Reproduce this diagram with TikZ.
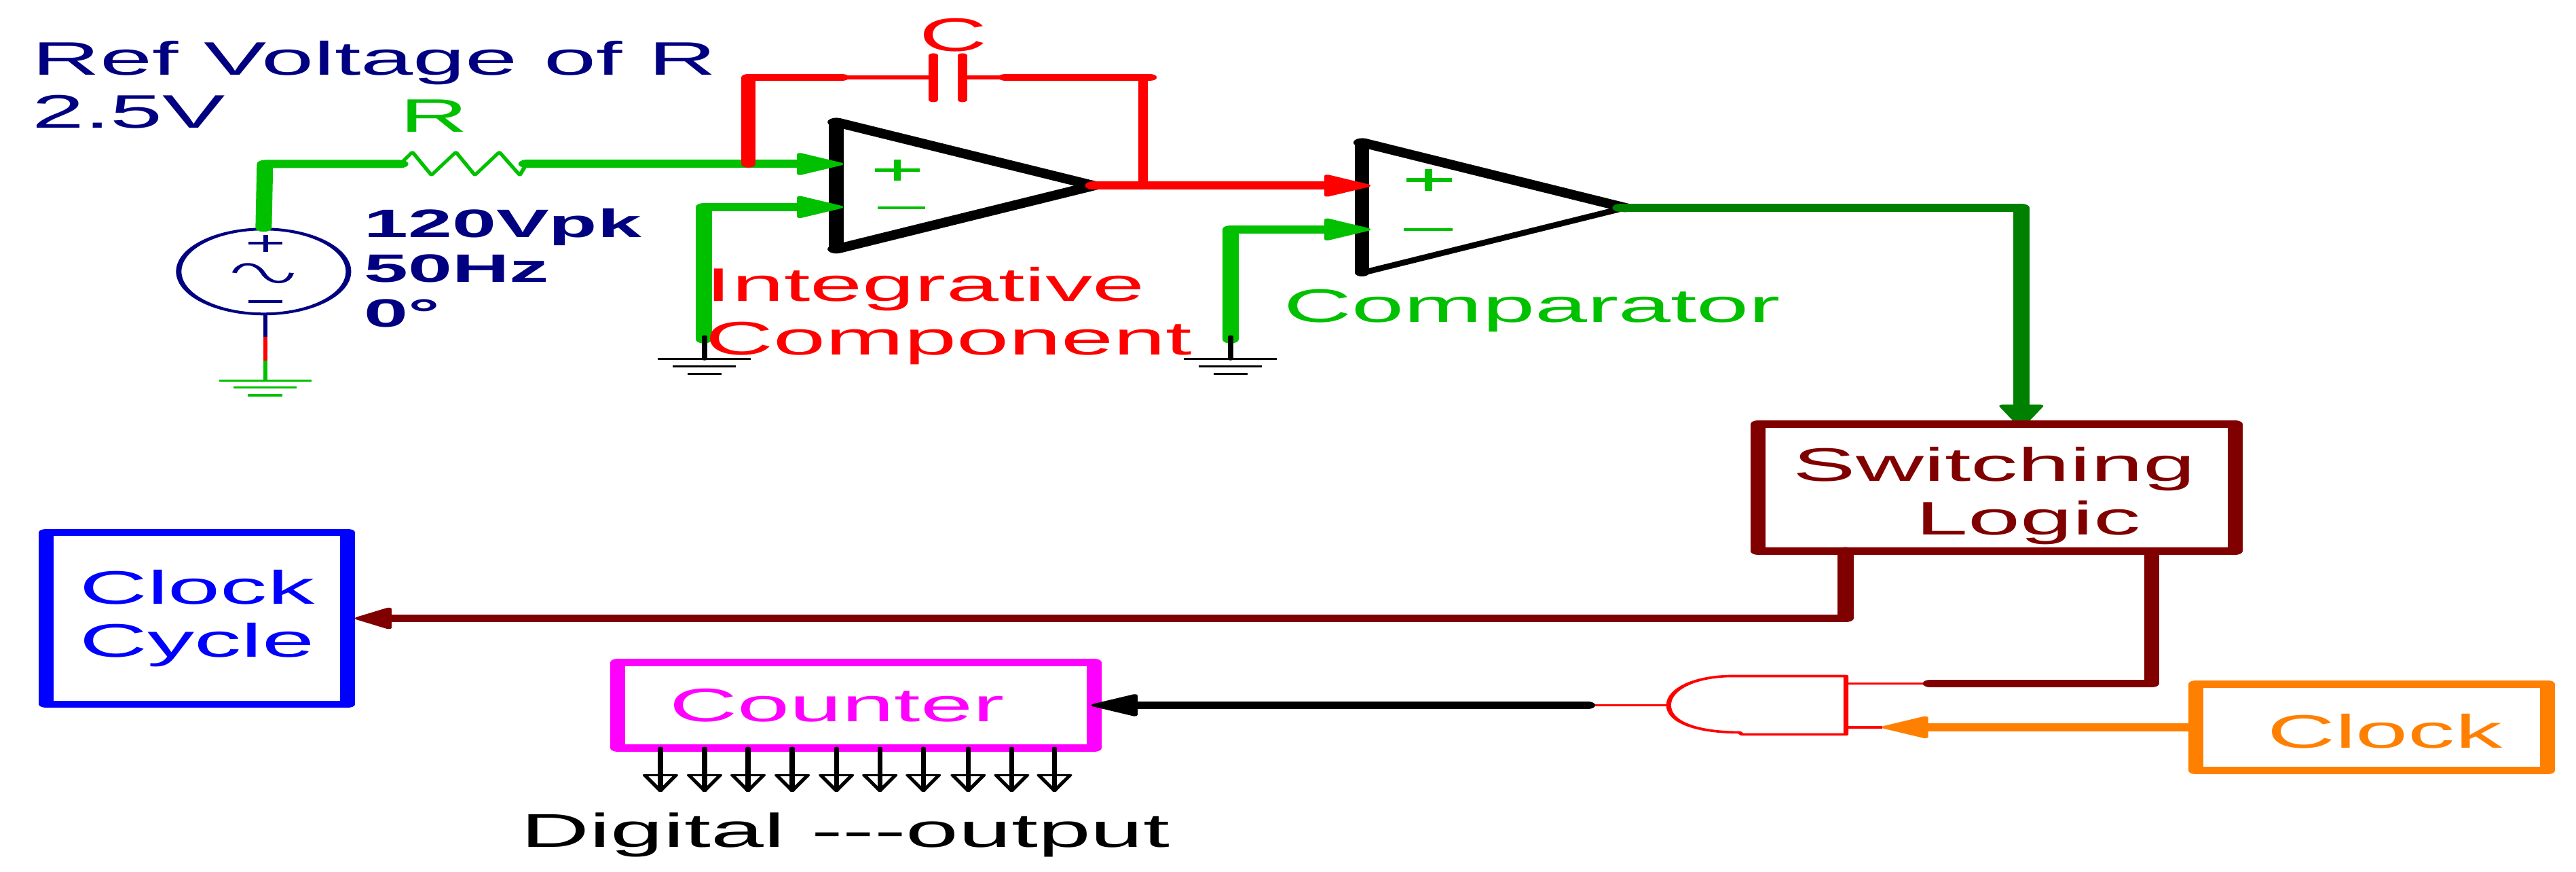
\documentclass[tikz,border=0pt]{standalone}
\usepackage{fontspec}
\setmainfont{Liberation Sans}
\usetikzlibrary{arrows.meta}
\definecolor{wgreen}{HTML}{00C000}
\definecolor{dgreen}{HTML}{008000}
\definecolor{maroonc}{HTML}{800000}
\definecolor{navyc}{HTML}{000080}
\definecolor{orangec}{HTML}{FF8000}
\definecolor{magentac}{HTML}{FF00FF}
\definecolor{bluec}{HTML}{0000FF}
\definecolor{redc}{HTML}{FF0000}
\tikzset{
  wire/.style={line cap=round,line join=round,line width=#1},
  wire/.default=0.12cm,
  headtip/.style={-{Triangle[length=0.37cm,width=0.34cm,round,line width=1.2pt]}},
  headshort/.style={-{Triangle[length=0.29cm,width=0.34cm,round,line width=1.2pt]}},
  lab/.style={anchor=base west,inner sep=0pt,outer sep=0pt,font=\fontsize{19.7}{22.3}\selectfont,align=left},
  sym/.style={line width=0.035cm},
  boxn/.style={draw,rectangle,line width=#1,inner sep=0pt,font=\fontsize{19.7}{22.3}\selectfont,line join=round},
}
\begin{document}
\begin{tikzpicture}[x=0.005cm,y=-0.01cm]
\useasboundingbox (0cm,0cm) rectangle (37.95cm,-12.83cm);
\begin{scope}[transform canvas={xscale=2}]
% named points
\coordinate (corner) at (390,241.6);
\coordinate (resL) at (589,241.6);
\coordinate (resR) at (775,241.6);
\coordinate (ap) at (1241,241.6);
\coordinate (am) at (1241,305);
\coordinate (aout) at (1609,273.5);
\coordinate (g2) at (1037,529);
\coordinate (cp) at (2017,273.5);
\coordinate (cm) at (2017,338);
\coordinate (cout) at (2385,306);
\coordinate (g3) at (1811,529);
\coordinate (swin) at (2975,630);
\coordinate (swa) at (2716,812);
\coordinate (swb) at (3167,812);
\coordinate (gin1) at (2717,1007);
\coordinate (gin2) at (2717,1071.5);
\coordinate (gout) at (2456,1039);
\coordinate (jn1) at (2841,1007);
\coordinate (jn2) at (2770,1071.5);
\coordinate (jn3) at (2337,1039);
\coordinate (fb1) at (1101.5,241.6);
\coordinate (fb2) at (1101.5,114);
\coordinate (cL) at (1374,114);
\coordinate (cR) at (1416.5,114);
\coordinate (fb3) at (1682,114);
\coordinate (fb4) at (1682,273.5);

% source
\node[draw=navyc,circle,line width=0.04cm,minimum size=1.25cm,inner sep=0pt] (src) at (388,400) {};
\draw[sym,navyc] (366,358) -- (416,358) (391,346) -- (391,371) (366,444) -- (416,444);
\draw[sym,navyc] (345,402) .. controls (352,385) and (376,385) .. (387,402) .. controls (398,420) and (424,420) .. (429,402);
\draw[navyc,line width=0.03cm] (391,462) -- (391,496);
\draw[redc,line width=0.03cm] (391,496) -- (391,531);
\draw[wgreen,line width=0.03cm] (391,531) -- (391,561);
\foreach \a/\b/\y in {323/459/561,344/437/571,365/416/582.5}
  \draw[wgreen,sym] (\a,\y) -- (\b,\y);

% green input wires
\draw[wgreen,wire] (src.north) -- (corner) -- (resL);
\draw[wgreen,line width=0.032cm,line join=round] (resL) -- (607,224) -- (635,258) -- (671,224) -- (699,258) -- (735,224) -- (765,258) -- (resR);

% op amps
\draw[black,line width=0.11cm,line cap=round] (1231,180) -- (1231,367);
\draw[black,line width=0.13cm,line cap=round] (1231,180) -- (1610,273.5) -- (1231,367);
\draw[black,line width=0.105cm,line cap=round] (2005,210) -- (2005,402);
\draw[black,line width=0.13cm,line cap=round] (2005,210) -- (2392,306);
\draw[black,line width=0.08cm,line cap=round] (2392,306) -- (2005,402);

\draw[wgreen,wire,headtip] (resR) -- (ap);
\draw[wgreen,wire,headtip] (1036,500) -- (1036,305) -- (am);
\draw[wgreen,wire,headtip] (1811,500) -- (1811,338) -- (cm);

% op amp signs
\draw[wgreen,line width=0.05cm] (1288,250.6) -- (1354,250.6) (1321,235.5) -- (1321,266.5);
\draw[wgreen,line width=0.04cm] (1292,305.7) -- (1362,305.7);
\draw[wgreen,line width=0.055cm] (2070,265) -- (2137,265) (2103,249) -- (2103,281);
\draw[wgreen,line width=0.04cm] (2066,337.7) -- (2138,337.7);

% grounds
\foreach \c in {1037,1811}{
  \draw[black,line width=0.04cm,line cap=round] (\c,496) -- (\c,529);
  \draw[black,sym] (\c-69,529) -- (\c+68,529) (\c-47,540) -- (\c+46,540) (\c-25,550.6) -- (\c+25,550.6);
}

% feedback capacitor
\draw[redc,wire=0.106cm] (fb1) -- (fb2) -- (1239,114);
\draw[redc,line width=0.055cm] (1239,114) -- (cL) (cR) -- (1480,114);
\draw[redc,wire=0.106cm] (1480,114) -- (1692,114);
\draw[redc,wire=0.07cm] (1374,82) -- (1374,147);
\draw[redc,wire=0.07cm] (1416.5,82) -- (1416.5,147);
\draw[redc,wire=0.07cm] (fb3) -- (fb4);
\draw[redc,wire,headtip] (aout) -- (cp);

% comparator output
\draw[dgreen,wire=0.118cm,headtip] (cout) -- (2975,306) -- (swin);

% boxes
\node[boxn=0.108cm,draw=maroonc,text=maroonc,minimum width=3.515cm,minimum height=1.87cm,align=left] (sw) at (2938.5,718.5) {\rule{0pt}{0.74cm}\hspace*{-0.03cm}Switching\\[0pt]\hspace*{0.875cm}Logic};
\node[boxn=0.108cm,draw=bluec,text=bluec,minimum width=2.22cm,minimum height=2.53cm,align=center] (cc) at (290,911) {Clock\\[0pt]Cycle};
\node[boxn=0.108cm,draw=magentac,text=magentac,minimum width=3.51cm,minimum height=1.26cm] (cnt) at (1260,1039) {Counter\hspace*{0.28cm}};
\node[boxn=0.11cm,draw=orangec,text=orangec,minimum width=2.59cm,minimum height=1.275cm] (clk) at (3491,1071.5) {\rule{0pt}{0.62cm}\hspace*{0.19cm}Clock};

% logic wiring
\draw[maroonc,wire=0.12cm,headshort] (swa) |- (cc.east);
\draw[redc,line width=0.036cm] (gin1) -- (jn1);
\draw[redc,line width=0.036cm] (gin2) -- (jn2);
\draw[redc,line width=0.036cm] (gout) -- (jn3);
\draw[maroonc,wire=0.11cm] (swb) |- (jn1);
\draw[redc,line width=0.036cm,line join=round] (2717,996) -- (2551,996) .. controls (2495,996) and (2456,1015) .. (gout) .. controls (2456,1063) and (2495,1079) .. (2560,1079) -- (2564,1082) -- (2717,1082) -- cycle;
\draw[black,wire=0.11cm,headtip,shorten >=-0.075cm] (jn3) -- (cnt.east);
\draw[orangec,line width=0.125cm,headtip] (clk.west) -- (jn2);

% digital outputs
\foreach \n/\x in {0/972,1/1037,2/1101,3/1166,4/1231,5/1295,6/1359,7/1425,8/1489,9/1552}{
  \coordinate (d\n) at (\x,1102);
  \coordinate (e\n) at (\x,1165);
  \draw[black,line width=0.036cm,line cap=round] (d\n) -- (e\n);
  \draw[black,line width=0.032cm,line join=round] (\x-23,1142) -- (\x+23,1142) -- (e\n) -- cycle;
}

% texts
\node[lab,text=navyc] (t1) at (47,189) {Ref Voltage of R\\[0pt]2.5V};
\node[lab,text=wgreen] (t2) at (589,195) {R};
\node[lab,text=redc] (t3) at (1353,75.5) {C};
\node[lab,text=navyc,font=\fontsize{16.6}{18.8}\selectfont\bfseries] (t4) at (536,482) {120Vpk\\[0pt]50Hz\\[0pt]0°};
\node[lab,text=redc] (t5) at (1039,522.4) {Integrative\\[0pt]Component};
\node[lab,text=wgreen] (t6) at (1890,475) {Comparator};
\node[lab,text=black,font=\fontsize{19.9}{22.3}\selectfont] (t7) at (767,1248) {Digital {-}{-}{-}output};
\end{scope}
\end{tikzpicture}
\end{document}
